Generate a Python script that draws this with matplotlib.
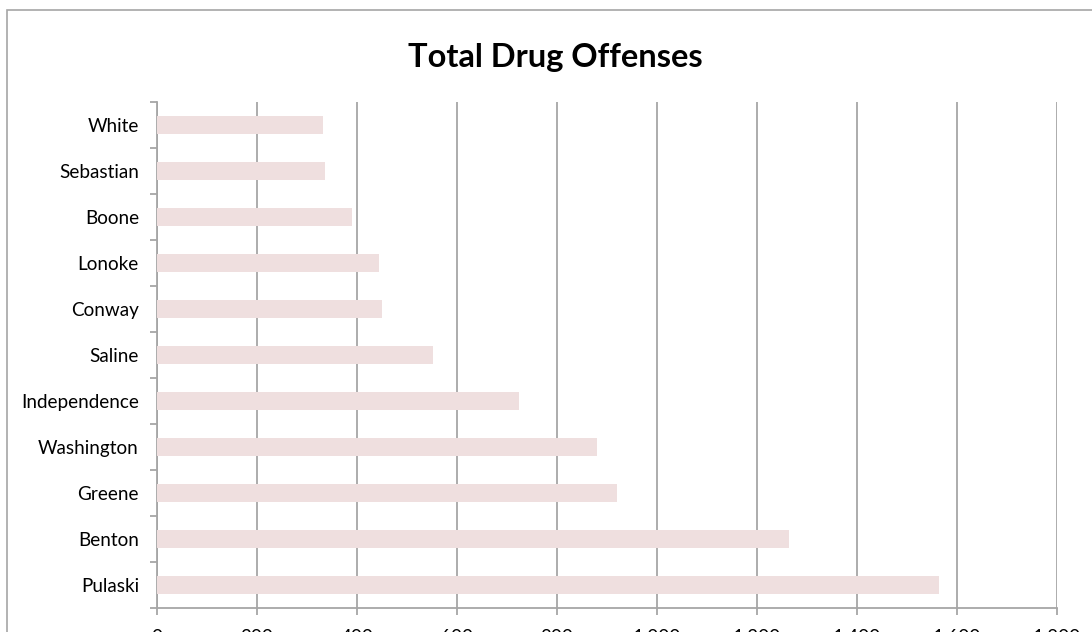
import matplotlib.pyplot as plt
from matplotlib.patches import Rectangle
from matplotlib.ticker import FuncFormatter

# counties, top to bottom as shown
counties = ['White', 'Sebastian', 'Boone', 'Lonoke', 'Conway', 'Saline',
            'Independence', 'Washington', 'Greene', 'Benton', 'Pulaski']
offenses = [332, 336, 390, 445, 451, 553, 724, 881, 920, 1265, 1564]
xticks = list(range(0, 1801, 200))

plt.rcParams['font.family'] = ['Lato', 'DejaVu Sans']

fig = plt.figure(figsize=(10.92, 6.32), dpi=100)
# outer chart frame (runs off the right and bottom edges)
fig.patches.append(Rectangle((7 / 1092, -0.2), 2.0, (632 - 10) / 632 + 0.2,
                             transform=fig.transFigure, fill=False,
                             edgecolor='#a6a6a6', linewidth=1.2))

ax = fig.add_axes([157 / 1092, 24 / 632, 900 / 1092, 506 / 632])
n = len(counties)
ypos = list(range(n - 1, -1, -1))
ax.barh(ypos, offenses, height=0.39, color='#efdfdf', zorder=3)

ax.set_xlim(0, 1800)
ax.set_ylim(-0.5, n - 0.5)
ax.set_xticks(xticks)
ax.xaxis.set_major_formatter(FuncFormatter(lambda v, p: f'{int(v):,}'))
ax.set_yticks(ypos)
ax.set_yticklabels(counties)
ax.set_yticks([i - 0.5 for i in range(n + 1)], minor=True)

ax.grid(axis='x', color='#a6a6a6', linewidth=1.3, zorder=0)
for s in ['top', 'right']:
    ax.spines[s].set_visible(False)
for s in ['left', 'bottom']:
    ax.spines[s].set_color('#a6a6a6')
    ax.spines[s].set_linewidth(1.3)

ax.tick_params(axis='y', which='major', length=0, pad=13, labelsize=13.6)
ax.tick_params(axis='y', which='minor', length=5, width=1.3, color='#a6a6a6')
ax.tick_params(axis='x', length=5, width=1.3, color='#a6a6a6', pad=10, labelsize=13.6)

fig.text(555 / 1092, 1 - 57 / 632, 'Total Drug Offenses', ha='center', va='center',
         fontsize=23.5, fontweight='bold')

plt.savefig('out.png', dpi=100)
